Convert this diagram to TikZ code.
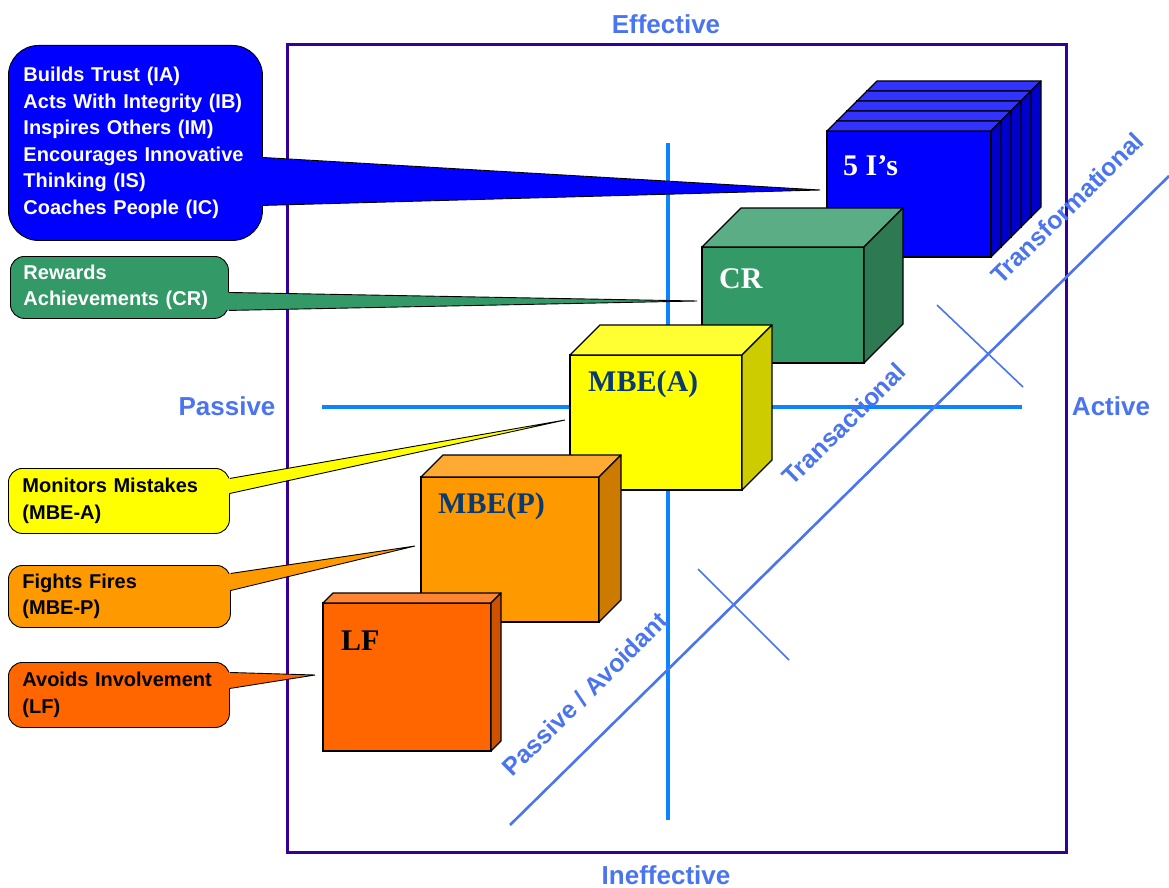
\documentclass[tikz,border=0pt]{standalone}
\usepackage{fontspec}
\setmainfont{Liberation Sans}
\newfontfamily\serifbf{Liberation Serif}
\usetikzlibrary{calc}
\definecolor{frameviolet}{HTML}{330099}
\definecolor{axisblue}{HTML}{0A84FF}
\definecolor{diagblue}{HTML}{4A74F0}
\definecolor{lblblue}{HTML}{4A74F0}
\definecolor{navy}{HTML}{0B3A6E}
\definecolor{fiveF}{HTML}{0000FF}\definecolor{fiveT}{HTML}{3333FF}\definecolor{fiveS}{HTML}{0000CC}
\definecolor{crF}{HTML}{339966}\definecolor{crT}{HTML}{5BAD85}\definecolor{crS}{HTML}{2D7A52}
\definecolor{maF}{HTML}{FFFF00}\definecolor{maT}{HTML}{FFFF33}\definecolor{maS}{HTML}{CCCC00}
\definecolor{mpF}{HTML}{FF9900}\definecolor{mpT}{HTML}{FFAA33}\definecolor{mpS}{HTML}{CC7A00}
\definecolor{lfF}{HTML}{FF6600}\definecolor{lfT}{HTML}{FF8533}\definecolor{lfS}{HTML}{CC5200}
\tikzset{
  axislabel/.style={text=lblblue, font=\fontsize{26}{30}\selectfont\bfseries, inner sep=0},
  diaglabel/.style={text=lblblue, font=\fontsize{25}{30}\selectfont\bfseries, inner sep=0, rotate=44.6},
  axisline/.style={draw=axisblue, line width=4.5pt},
  diagline/.style={draw=diagblue, line width=2.6pt},
  crossline/.style={draw=diagblue, line width=1.6pt},
  facebox/.style={draw=black, line width=1.3pt, anchor=north west, inner sep=0, outer sep=0},
  faceline/.style={draw=black, line width=1.3pt, line join=round},
  boxlabel/.style={font=\serifbf\bfseries\fontsize{30}{30}\selectfont, anchor=base west, inner sep=0},
  callout/.style={draw=black, line width=0.9pt, anchor=north west, inner ysep=0, align=left,
     font=\fontsize{20}{26.5}\selectfont\bfseries},
  wedgeline/.style={draw=black, line width=0.9pt, line join=miter},
}
\newcommand\mycube[9]{%
  \node[facebox, fill=#7, minimum width=#4, minimum height=#5] (#1) at (#2,#3) {};
  \draw[faceline, fill=#8] (#1.north west) -- ++(#6,-#6) -- ($(#1.north east)+(#6,-#6)$) -- (#1.north east) -- cycle;
  \draw[faceline, fill=#9] (#1.north east) -- ++(#6,-#6) -- ($(#1.south east)+(#6,-#6)$) -- (#1.south east) -- cycle;
}
\newcommand\mywedge[5]{%
  \fill[#5] ([xshift=-2pt,yshift=#2]#1.east) -- (#4) -- ([xshift=-2pt,yshift=#3]#1.east) -- cycle;
  \draw[wedgeline] ([yshift=#2]#1.east) -- (#4) -- ([yshift=#3]#1.east);
}
\begin{document}
\begin{tikzpicture}[x=1pt,y=-1pt]
\useasboundingbox (0,0) rectangle (1169,888);
% frame
\draw[draw=frameviolet, line width=3pt] (287,45) rectangle (1066,852);
% axes
\coordinate (vtop) at (668,143); \coordinate (vbot) at (668,820);
\coordinate (hleft) at (322,407); \coordinate (hright) at (1022,407);
\draw[axisline] (vtop) -- (vbot);
\draw[axisline] (hleft) -- (hright);
% diagonal and crosses
\coordinate (dlow) at (510,825); \coordinate (dhigh) at (1169,176);
\draw[diagline] (dlow) -- (dhigh);
\coordinate (c1a) at (937,305); \coordinate (c1b) at (1023,387);
\coordinate (c2a) at (698,569); \coordinate (c2b) at (789,660);
\draw[crossline] (c1a) -- (c1b);
\draw[crossline] (c2a) -- (c2b);
% diagonal labels
\node[diaglabel] (ttf) at (1067,208) {Transformational};
\node[diaglabel] (ttr) at (844,424) {Transactional};
\node[diaglabel] (tpa) at (585,694) {Passive / Avoidant};
% cubes
\foreach \k in {4,3,2,1,0}{%
  \mycube{five\k}{827+10*\k}{131-10*\k}{164}{126}{10}{fiveF}{fiveT}{fiveS}
}
\node[boxlabel, text=white] (lfive) at (843,175) {5 I’s};
\mycube{cr}{702}{247}{162}{116}{39}{crF}{crT}{crS}
\node[boxlabel, text=white] (lcr) at (719,288) {CR};
\mycube{mba}{570}{355}{172}{135}{30}{maF}{maT}{maS}
\node[boxlabel, text=navy] (lmba) at (588,391) {MBE(A)};
\mycube{mbp}{421}{477}{178}{145}{22}{mpF}{mpT}{mpS}
\node[boxlabel, text=navy] (lmbp) at (438,513) {MBE(P)};
\mycube{lf}{323}{603}{168}{148}{10}{lfF}{lfT}{lfS}
\node[boxlabel, text=black] (llf) at (341,650) {LF};
% callouts
\node[callout, fill=fiveF, text=white, rounded corners=30pt, inner xsep=15pt, text width=224pt,
      minimum width=254pt, minimum height=195pt] (ci) at (8,45)
  {Builds Trust (IA)\\Acts With Integrity (IB)\\Inspires Others (IM)\\Encourages Innovative\\Thinking (IS)\\Coaches People (IC)};
\node[callout, fill=crF, text=white, rounded corners=14pt, inner xsep=13pt, text width=192pt,
      minimum width=218pt, minimum height=62pt] (ccr) at (10,256)
  {Rewards\\Achievements (CR)};
\node[callout, fill=maF, text=black, rounded corners=14pt, inner xsep=14pt, text width=193pt,
      minimum width=221pt, minimum height=65pt] (cma) at (8,468)
  {Monitors Mistakes\\(MBE-A)};
\node[callout, fill=mpF, text=black, rounded corners=14pt, inner xsep=14pt, text width=194pt,
      minimum width=222pt, minimum height=62pt] (cmp) at (8,565)
  {Fights Fires\\(MBE-P)};
\node[callout, fill=lfF, text=black, rounded corners=14pt, inner xsep=14pt, text width=193pt,
      minimum width=221pt, minimum height=65pt] (clf) at (8,662)
  {Avoids Involvement\\(LF)};
% wedge pointers
\coordinate (tipi) at (820,190);
\coordinate (tipcr) at (697,301);
\coordinate (tipma) at (565,420);
\coordinate (tipmp) at (415,546);
\coordinate (tiplf) at (315,675);
\mywedge{ci}{-14.5pt}{-62.5pt}{tipi}{fiveF}
\mywedge{ccr}{-5pt}{-23pt}{tipcr}{crF}
\mywedge{cma}{22.5pt}{7.5pt}{tipma}{maF}
\mywedge{cmp}{23pt}{6pt}{tipmp}{mpF}
\mywedge{clf}{22.5pt}{6.5pt}{tiplf}{lfF}
% axis labels
\node[axislabel] (leff) at (666,24) {Effective};
\node[axislabel] (linef) at (666,875) {Ineffective};
\node[axislabel] (lpas) at (227,406) {Passive};
\node[axislabel] (lact) at (1111,406) {Active};
\end{tikzpicture}
\end{document}
